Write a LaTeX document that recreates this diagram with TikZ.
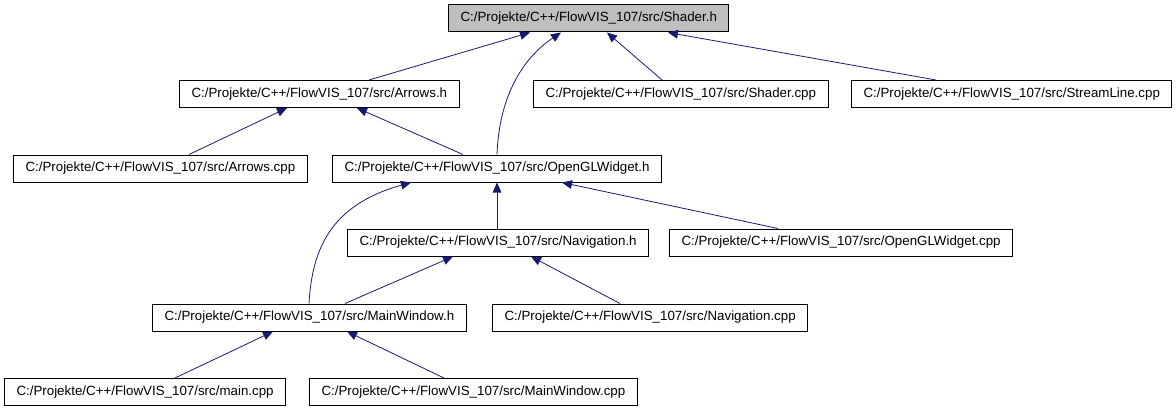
\documentclass[tikz,border=0pt]{standalone}
\usepackage{fontspec}
\setmainfont{Liberation Sans}
\usetikzlibrary{calc,arrows.meta}

\definecolor{depblue}{RGB}{25,25,112}
\tikzstyle{file}=[draw, anchor=west, minimum height=20.25pt, inner xsep=9pt, inner ysep=0pt, line width=0.75pt, font=\fontsize{10pt}{12pt}\selectfont]
\tikzstyle{root}=[file, fill={rgb,255:red,191;green,191;blue,191}]
\tikzstyle{dep}=[draw=depblue, line width=0.6pt, -{Triangle[length=7.5pt,width=6.5pt]}, fill=none]

\begin{document}
\begin{tikzpicture}[x=0.75pt,y=-0.75pt]
            \useasboundingbox (0,0) rectangle (1176,410);
            \node[root] at (448,18.5) (shaderh) {C:/Projekte/C++/FlowVIS\_107/src/Shader.h};
            \node[file] at (179,94) (arrowsh) {C:/Projekte/C++/FlowVIS\_107/src/Arrows.h};
            \node[file] at (533,94) (shadercpp) {C:/Projekte/C++/FlowVIS\_107/src/Shader.cpp};
            \node[file] at (851,94) (streamcpp) {C:/Projekte/C++/FlowVIS\_107/src/StreamLine.cpp};
            \node[file] at (13,168.5) (arrowscpp) {C:/Projekte/C++/FlowVIS\_107/src/Arrows.cpp};
            \node[file] at (332,168.5) (openglh) {C:/Projekte/C++/FlowVIS\_107/src/OpenGLWidget.h};
            \node[file] at (347,242.5) (navh) {C:/Projekte/C++/FlowVIS\_107/src/Navigation.h};
            \node[file] at (669,242.5) (openglcpp) {C:/Projekte/C++/FlowVIS\_107/src/OpenGLWidget.cpp};
            \node[file] at (152,317.5) (mainwinh) {C:/Projekte/C++/FlowVIS\_107/src/MainWindow.h};
            \node[file] at (492,317.5) (navcpp) {C:/Projekte/C++/FlowVIS\_107/src/Navigation.cpp};
            \node[file] at (4,392) (maincpp) {C:/Projekte/C++/FlowVIS\_107/src/main.cpp};
            \node[file] at (309,392) (mainwincpp) {C:/Projekte/C++/FlowVIS\_107/src/MainWindow.cpp};
            % includes of Shader.h
            \draw[dep] ($(arrowsh.north west)+(190,0)$) -- ($(shaderh.south west)+(82,0)$);
            \draw[dep] ($(openglh.north west)+(165,0)$) .. controls (499,100) and (520,60) .. ($(shaderh.south west)+(113,0)$);
            \draw[dep] ($(shadercpp.north west)+(129,0)$) -- ($(shaderh.south west)+(159,0)$);
            \draw[dep] ($(streamcpp.north west)+(85,0)$) -- ($(shaderh.south west)+(220,0)$);
            % includes of Arrows.h
            \draw[dep] ($(arrowscpp.north west)+(176,0)$) -- ($(arrowsh.south west)+(108,0)$);
            \draw[dep] ($(openglh.north west)+(131,0)$) -- ($(arrowsh.south west)+(178,0)$);
            % includes of OpenGLWidget.h
            \draw[dep] ($(navh.north west)+(150,0)$) -- ($(openglh.south west)+(165,0)$);
            \draw[dep] ($(openglcpp.north west)+(109,0)$) -- ($(openglh.south west)+(230,0)$);
            \draw[dep] ($(mainwinh.north west)+(157,0)$) .. controls (312,250) and (330,205) .. ($(openglh.south west)+(79,0)$);
            % includes of Navigation.h
            \draw[dep] ($(mainwinh.north west)+(193,0)$) -- ($(navh.south west)+(106,0)$);
            \draw[dep] ($(navcpp.north west)+(128,0)$) -- ($(navh.south west)+(184,0)$);
            % includes of MainWindow.h
            \draw[dep] ($(maincpp.north west)+(171,0)$) -- ($(mainwinh.south west)+(121,0)$);
            \draw[dep] ($(mainwincpp.north west)+(135,0)$) -- ($(mainwinh.south west)+(195,0)$);
        \end{tikzpicture}
\end{document}
